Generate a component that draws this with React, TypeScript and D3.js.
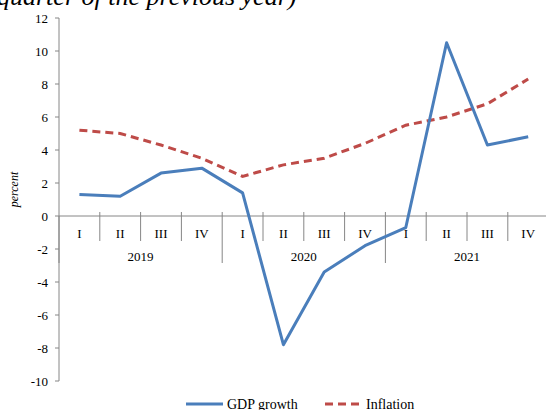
import React from "react";
import * as d3 from "d3";

const quarters = ["I", "II", "III", "IV", "I", "II", "III", "IV", "I", "II", "III", "IV"];
const years = ["2019", "2020", "2021"];
const gdpGrowth = [1.3, 1.2, 2.6, 2.9, 1.4, -7.8, -3.4, -1.8, -0.7, 10.5, 4.3, 4.8];
const inflation = [5.2, 5.0, 4.3, 3.5, 2.4, 3.1, 3.5, 4.4, 5.5, 6.0, 6.8, 8.3];
const yTicks = [12, 10, 8, 6, 4, 2, 0, -2, -4, -6, -8, -10];

const W = 546;
const H = 410;
const left = 59;
const right = 548.6;
const top = 18;
const bottom = 381;

export default function App() {
  const idx = quarters.map((_, i) => i);
  const x = d3.scaleBand<number>().domain(idx).range([left, right]).paddingInner(0).paddingOuter(0);
  const y = d3.scaleLinear().domain([-10, 12]).range([bottom, top]);
  const cx = (i: number) => (x(i) as number) + x.bandwidth() / 2;
  const line = d3.line<number>().x((_, i) => cx(i)).y((d) => y(d));
  const y0 = y(0);
  const serif = "'Liberation Serif', 'Times New Roman', serif";
  const axisColor = "#868686";

  return (
    <svg width={W} height={H} style={{ position: "fixed", top: 0, left: 0, background: "#fff" }} fontFamily={serif}>
      <text x={-3} y={5} fontSize={26} fontStyle="italic" fill="#000">quarter of the previous year)</text>
      {/* y axis */}
      <line x1={left} x2={left} y1={top} y2={bottom} stroke={axisColor} strokeWidth={1} />
      {yTicks.map((t) => (
        <g key={t}>
          <line x1={left - 4} x2={left} y1={y(t)} y2={y(t)} stroke={axisColor} />
          <text x={left - 11} y={y(t)} dy="0.35em" textAnchor="end" fontSize={13} fill="#000">{t}</text>
        </g>
      ))}
      <text transform={`translate(18,${(top + bottom) / 2 - 10}) rotate(-90)`} textAnchor="middle" fontSize={12} fontStyle="italic" fill="#000">percent</text>
      {/* x axis */}
      <line x1={left} x2={right} y1={y0} y2={y0} stroke={axisColor} strokeWidth={1} />
      {idx.map((i) => {
        const xe = (x(i) as number) + x.bandwidth();
        const isYear = (i + 1) % 4 === 0;
        return (
          <line key={"t" + i} x1={xe} x2={xe} y1={y0 - 4} y2={isYear ? y0 + 47 : y0 + 25} stroke={axisColor} />
        );
      })}
      <line x1={left} x2={left} y1={y0} y2={y0 + 47} stroke={axisColor} />
      {quarters.map((q, i) => (
        <text key={"q" + i} x={cx(i)} y={y0 + 17} dy="0.35em" textAnchor="middle" fontSize={13} fill="#000">{q}</text>
      ))}
      {years.map((yr, j) => {
        const x1 = x(j * 4) as number;
        const x2 = (x(j * 4 + 3) as number) + x.bandwidth();
        return (
          <text key={yr} x={(x1 + x2) / 2} y={y0 + 40} dy="0.35em" textAnchor="middle" fontSize={13} fill="#000">{yr}</text>
        );
      })}
      {/* series */}
      <path d={line(inflation) || ""} fill="none" stroke="#be4b48" strokeWidth={3} strokeDasharray="8,5" />
      <path d={line(gdpGrowth) || ""} fill="none" stroke="#4a7ebb" strokeWidth={3} strokeLinejoin="round" />
      {/* legend */}
      <line x1={186} x2={223} y1={404} y2={404} stroke="#4a7ebb" strokeWidth={3} />
      <text x={227} y={404} dy="0.35em" fontSize={14} fill="#000">GDP growth</text>
      <line x1={325} x2={361} y1={404} y2={404} stroke="#be4b48" strokeWidth={3} strokeDasharray="8,5" />
      <text x={366} y={404} dy="0.35em" fontSize={14} fill="#000">Inflation</text>
    </svg>
  );
}
